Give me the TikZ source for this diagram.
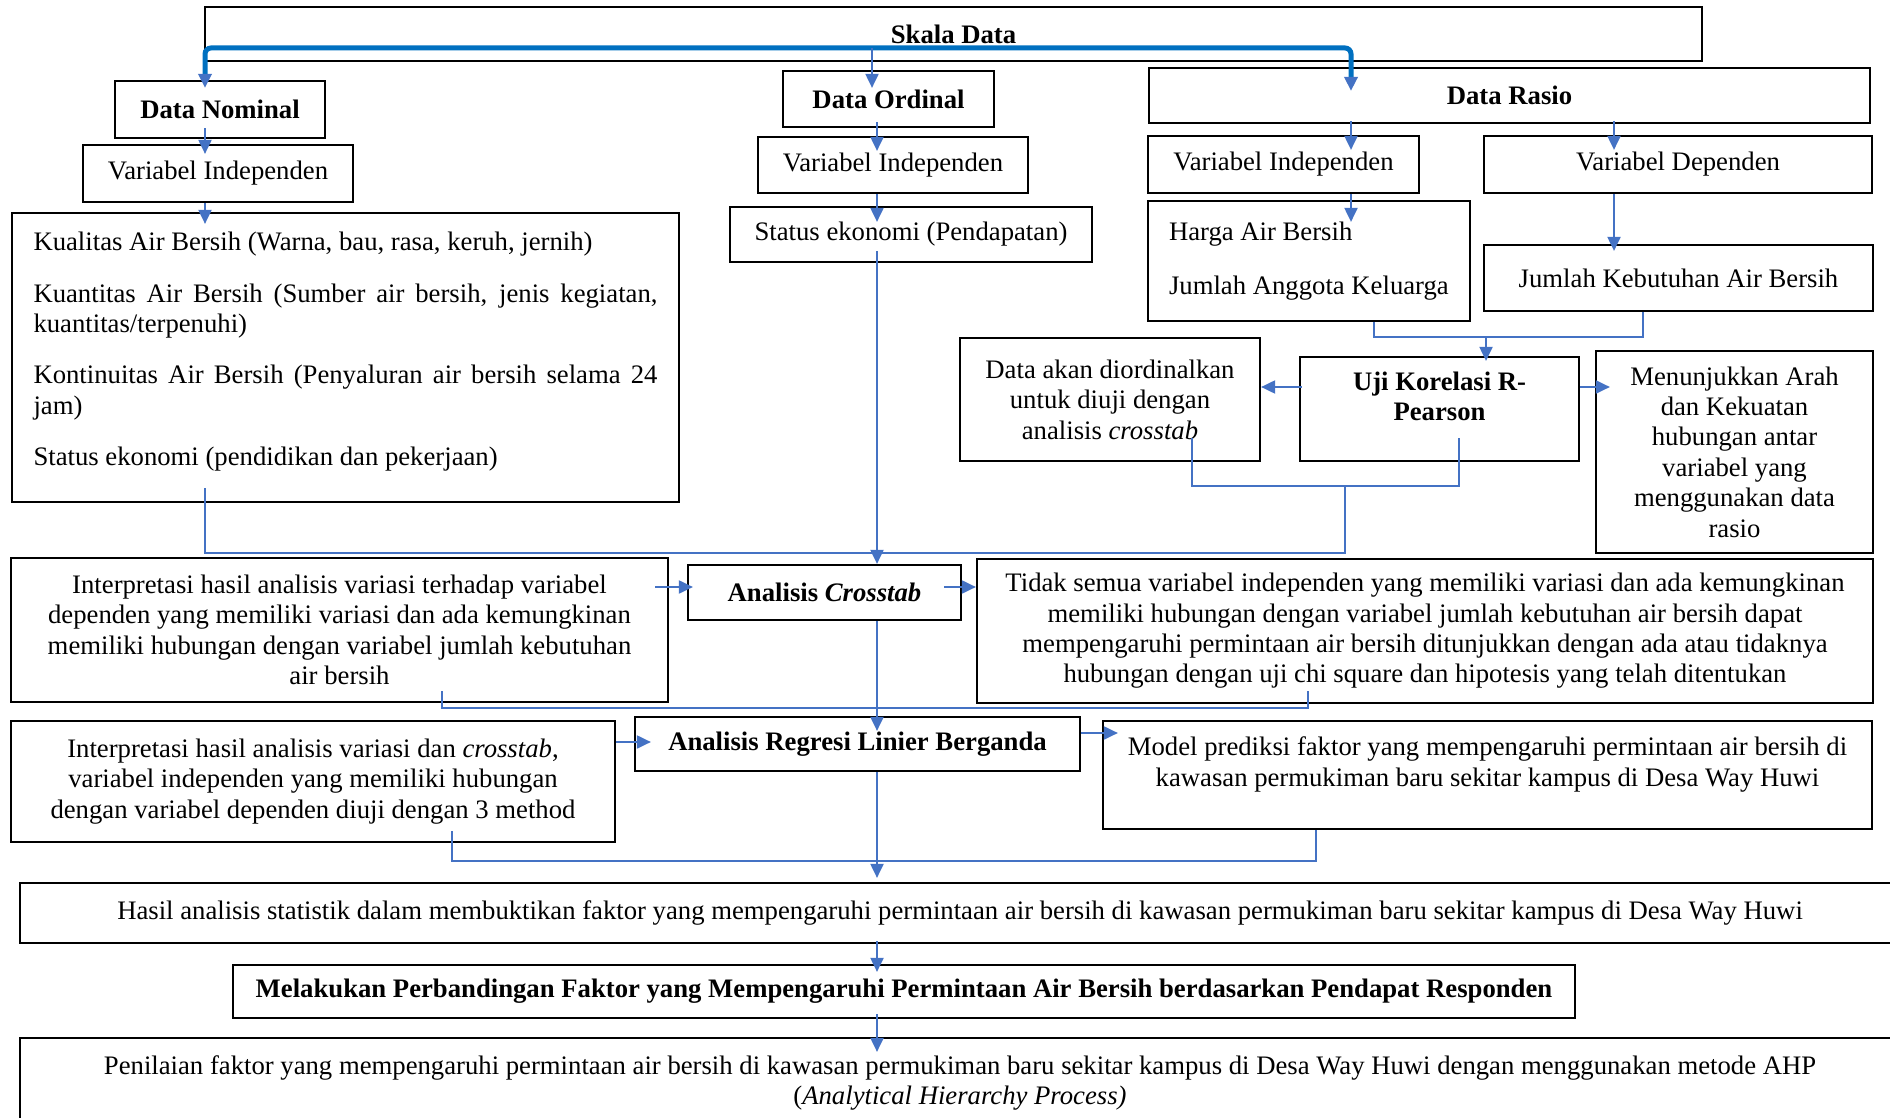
\documentclass[tikz,border=0pt]{standalone}
\usepackage{fontspec}
\setmainfont{Liberation Serif}
\usetikzlibrary{arrows.meta}
\definecolor{arrowblue}{RGB}{68,114,196}
\definecolor{barblue}{RGB}{0,112,192}

\begin{document}
\begin{tikzpicture}[
  x=0.5pt, y=-0.5pt,
  font=\fontsize{13.35}{15.2}\selectfont,
  box/.style={draw, line width=1.1pt, align=center, inner sep=2pt},
  arrow/.style={arrowblue, line width=1pt, -{Triangle[length=7pt,width=6.5pt]}},
  link/.style={arrowblue, line width=1pt},
  bar/.style={barblue, line width=2.5pt, rounded corners=3pt},
  tipin/.style={shorten >=-#1},
  tailin/.style={shorten <=-#1}
]
\useasboundingbox (0,0) rectangle (1890,1118);
\clip (0,0) rectangle (1890,1118);

% skala data
\node[box, line width=0.8pt, minimum width=748.5pt, minimum height=27pt] (skala) at (953.5,34) {\textbf{Skala Data}};
\node[box, minimum width=105pt, minimum height=28.5pt] (dnom) at (220,109.5) {\textbf{Data Nominal}};
\node[box, minimum width=105.5pt, minimum height=28pt] (dord) at (888.5,99) {\textbf{Data Ordinal}};
\node[box, minimum width=360.5pt, minimum height=27.5pt] (drasio) at (1509.5,95.5) {\textbf{Data Rasio}};

% nominal
\node[box, text width=312pt, inner xsep=10.75pt, align=justify, minimum height=144.5pt, text depth=116pt] (kual) at (345.5,357.5)
  {\hyphenpenalty=10000 Kualitas Air Bersih (Warna, bau, rasa, keruh, jernih)\\[10.5pt]
   Kuantitas Air Bersih (Sumber air bersih, jenis kegiatan, kuantitas/terpenuhi)\\[10.5pt]
   Kontinuitas Air Bersih (Penyaluran air bersih selama 24 jam)\\[10.5pt]
   Status ekonomi (pendidikan dan pekerjaan)};
\node[box, minimum width=135pt, minimum height=28.5pt] (nomvar) at (218,173.5) {Variabel Independen};

% ordinal
\node[box, minimum width=135pt, minimum height=28pt] (ordvar) at (893,165) {Variabel Independen};
\node[box, minimum width=181pt, minimum height=27.5pt] (ordstat) at (911,234.5) {Status ekonomi (Pendapatan)};

% rasio
\node[box, minimum width=135.5pt, minimum height=28.5pt] (rasvar) at (1283.5,164.5) {Variabel Independen};
\node[box, minimum width=194pt, minimum height=28.5pt] (rasdep) at (1678,164.5) {Variabel Dependen};
\node[box, text width=140pt, align=flush left, inner xsep=10.5pt, minimum height=60pt] (harga) at (1309,261)
  {Harga Air Bersih\\[12pt]Jumlah Anggota Keluarga};
\node[box, minimum width=194.5pt, minimum height=33pt] (jkab) at (1678.5,278) {Jumlah Kebutuhan Air Bersih};
\node[box, minimum width=139.5pt, minimum height=52pt, text depth=12.5pt] (uji) at (1439.5,409) {\textbf{Uji Korelasi R-}\\\textbf{Pearson}};
\node[box, minimum width=150pt, minimum height=61.5pt] (ordinal) at (1110,399.5)
  {Data akan diordinalkan\\untuk diuji dengan\\analisis \textit{crosstab}};
\node[box, minimum width=138.5pt, minimum height=101pt] (arah) at (1734.5,452)
  {Menunjukkan Arah\\dan Kekuatan\\hubungan antar\\variabel yang\\menggunakan data\\rasio};

% analisis
\node[box, minimum width=136.5pt, minimum height=27.5pt] (crosstab) at (824.5,592.5) {\textbf{Analisis \textit{Crosstab}}};
\node[box, minimum width=328.5pt, minimum height=72pt] (interp1) at (339.5,630)
  {Interpretasi hasil analisis variasi terhadap variabel\\dependen yang memiliki variasi dan ada kemungkinan\\memiliki hubungan dengan variabel jumlah kebutuhan\\air bersih};
\node[box, minimum width=448pt, minimum height=72pt] (tidak) at (1425,631)
  {Tidak semua variabel independen yang memiliki variasi dan ada kemungkinan\\memiliki hubungan dengan variabel jumlah kebutuhan air bersih dapat\\mempengaruhi permintaan air bersih ditunjukkan dengan ada atau tidaknya\\hubungan dengan uji chi square dan hipotesis yang telah ditentukan};
\node[box, minimum width=222.5pt, minimum height=27pt] (regresi) at (857.5,744) {\textbf{Analisis Regresi Linier Berganda}};
\node[box, minimum width=302pt, minimum height=60.5pt] (interp2) at (313,781.5)
  {Interpretasi hasil analisis variasi dan \textit{crosstab},\\variabel independen yang memiliki hubungan\\dengan variabel dependen diuji dengan 3 method};
\node[box, minimum width=384.5pt, minimum height=54pt, text depth=13.5pt] (model) at (1487.5,775)
  {Model prediksi faktor yang mempengaruhi permintaan air bersih di\\kawasan permukiman baru sekitar kampus di Desa Way Huwi};

% hasil
\node[box, minimum width=940pt, minimum height=30pt] (hasil) at (960,913)
  {Hasil analisis statistik dalam membuktikan faktor yang mempengaruhi permintaan air bersih di kawasan permukiman baru sekitar kampus di Desa Way Huwi};
\node[box, minimum width=671pt, minimum height=26.5pt] (banding) at (904,991.5)
  {\textbf{Melakukan Perbandingan Faktor yang Mempengaruhi Permintaan Air Bersih berdasarkan Pendapat Responden}};
\node[box, minimum width=940pt, minimum height=45pt] (nilai) at (960,1083)
  {Penilaian faktor yang mempengaruhi permintaan air bersih di kawasan permukiman baru sekitar kampus di Desa Way Huwi dengan menggunakan metode AHP\\(\textit{Analytical Hierarchy Process)}};

% junctions
\coordinate (barL) at (205,48);
\coordinate (barM) at (872,48);
\coordinate (barR) at (1351,48);
\coordinate (depx) at ([xshift=-32pt]rasdep.north);
\coordinate (hj) at (1486,337);
\coordinate (ujiL) at ([yshift=11pt]uji.west);
\coordinate (ujiR) at ([yshift=11pt]uji.east);
\coordinate (ou) at (1345,486);
\coordinate (m1) at (1345,553);
\coordinate (col) at (877,553);
\coordinate (i1) at ([yshift=21.5pt]interp1.east);
\coordinate (ct) at ([yshift=2.75pt]crosstab.east);
\coordinate (m2) at (1308,708);
\coordinate (i2) at ([yshift=19.75pt]interp2.east);
\coordinate (rm) at ([yshift=5.5pt]regresi.east);
\coordinate (m3) at (1316,861);

% skala data -> nominal, ordinal, rasio
\draw[bar, {Triangle[length=7pt,width=6.5pt,color=arrowblue]}-{Triangle[length=7pt,width=6.5pt,color=arrowblue]}]
  ([yshift=-4pt]dnom.north -| barL) -- (barL) -- (barR) -- ([yshift=-12pt]drasio.north -| barR);
\draw[arrow, tipin=9pt] (barM) -- (dord.north -| barM);

\draw[arrow, tailin=5.5pt, tipin=5pt] (dnom.south -| barL) -- (nomvar.north -| barL);
\draw[arrow, tipin=6pt] (nomvar.south -| barL) -- (kual.north -| barL);
\draw[arrow, tailin=3pt, tipin=7.5pt] (dord.south -| col) -- (ordvar.north -| col);
\draw[arrow, tipin=8pt] (ordvar.south -| col) -- (ordstat.north -| col);
\draw[arrow, tailin=1.5pt, tipin=7.5pt] (drasio.south -| barR) -- (rasvar.north -| barR);
\draw[arrow, tailin=1.5pt, tipin=7.5pt] (depx |- drasio.south) -- (depx);
\draw[arrow, tipin=11pt] (rasvar.south -| barR) -- (harga.north -| barR);
\draw[arrow, tipin=3.5pt] (rasdep.south -| depx) -- (jkab.north -| depx);

% korelasi
\draw[link] ([xshift=32.5pt]harga.south) |- (hj) -| ([xshift=-17.75pt]jkab.south);
\draw[arrow, tipin=2.5pt] (hj) -- (uji.north -| hj);
\draw[arrow, tailin=1.5pt] (ujiL) -- (ujiL -| ordinal.east);
\draw[arrow, tipin=7.5pt] (ujiR) -- (ujiR -| arah.west);
\draw[link, tailin=12pt, tipin=12pt] ([xshift=41pt]ordinal.south) |- (ou) -| ([xshift=9.75pt]uji.south);
\draw[link, tailin=7.5pt] (kual.south -| barL) |- (m1) -- (ou);
\draw[arrow, tailin=6pt] (ordstat.south -| col) -- (crosstab.north -| col);

% crosstab dan regresi
\draw[arrow, tailin=7pt, tipin=3pt] (i1) -- (i1 -| crosstab.west);
\draw[arrow, tailin=9pt] (ct) -- (ct -| tidak.west);
\draw[link, tailin=6pt, tipin=6.5pt] ([xshift=51.25pt]interp1.south) |- (m2) -- (tidak.south -| m2);
\draw[arrow, tipin=7.5pt] (crosstab.south -| col) -- (regresi.north -| col);
\draw[arrow, tipin=8.5pt] (i2) -- (i2 -| regresi.west);
\draw[arrow, tipin=8pt] (rm) -- (rm -| model.west);
\draw[link, tailin=6pt] ([xshift=69.5pt]interp2.south) |- (m3) -- (model.south -| m3);
\draw[arrow, shorten >=2pt] (regresi.south -| col) -- (hasil.north -| col);
\draw[arrow, tailin=1.5pt, tipin=4pt] (hasil.south -| col) -- (banding.north -| col);
\draw[arrow, tailin=2.5pt, tipin=7.5pt] (banding.south -| col) -- (nilai.north -| col);
\end{tikzpicture}
\end{document}
